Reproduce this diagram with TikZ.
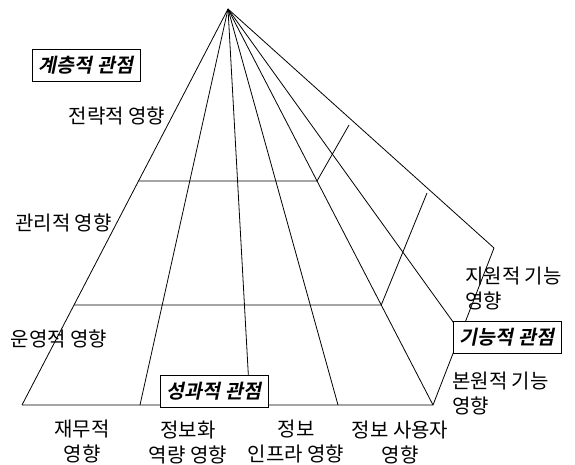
\documentclass[tikz,border=0pt]{standalone}
\usepackage{fontspec}
\setmainfont{Noto Sans CJK KR}
\newfontfamily\krbi{Noto Sans CJK KR Bold}[FakeSlant=0.2]
\usetikzlibrary{calc}
\begin{document}
\begin{tikzpicture}[x=1pt,y=-1pt,
  edge/.style={line width=0.8pt},
  lbl/.style={font=\fontsize{20}{25}\selectfont, inner sep=0pt, align=center},
  persp/.style={draw, fill=white, line width=0.8pt, minimum width=108pt, minimum height=32pt, inner sep=0pt, font=\krbi\fontsize{19.5}{20}\selectfont}]
\useasboundingbox (0,0) rectangle (575,465);
% apex and base points
\coordinate (A) at (228,9);
\coordinate (B0) at (22,405);
\coordinate (B1) at (140,405);
\coordinate (B2) at (250,405);
\coordinate (B3) at (338,405);
\coordinate (B4) at (433,405);
\coordinate (R1) at (461,333);
\coordinate (R2) at (494,248);
\foreach \p in {B0,B1,B2,B3,B4,R1,R2} \draw[edge] (A) -- (\p);
\draw[edge] (B0) -- (B4) -- (R2);
% level lines
\coordinate (L1) at ($(A)!0.4343!(B0)$);
\coordinate (M1) at ($(A)!0.4343!(B4)$);
\coordinate (E1) at (349,125);
\coordinate (L2) at ($(A)!0.7475!(B0)$);
\coordinate (M2) at ($(A)!0.7475!(B4)$);
\coordinate (E2) at (427,193);
\draw[edge] (L1) -- (M1) -- (E1);
\draw[edge] (L2) -- (M2) -- (E2);
% perspective boxes
\node[persp] (hier) at (86,65) {계층적 관점};
\node[persp] (perf) at (214,391) {성과적 관점};
\node[persp] (func) at (507,337.5) {기능적 관점};
% level labels
\node[lbl] (strat) at (117,116) {전략적 영향};
\node[lbl] (manag) at (63.5,223) {관리적 영향};
\node[lbl] (oper) at (59,339) {운영적 영향};
% bottom labels
\node[lbl] (fin) at (82,441.5) {재무적\\영향};
\node[lbl] (cap) at (188,443) {정보화\\역량 영향};
\node[lbl] (infra) at (296,442) {정보\\인프라 영향};
\node[lbl] (user) at (400,442) {정보 사용자\\영향};
% right labels
\node[lbl, align=left, anchor=west] (supp) at (465,288.5) {지원적 기능\\영향};
\node[lbl, align=left, anchor=west] (prim) at (452,393.5) {본원적 기능\\영향};
\end{tikzpicture}
\end{document}
